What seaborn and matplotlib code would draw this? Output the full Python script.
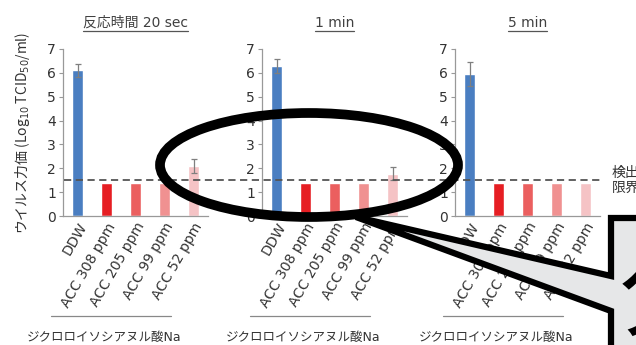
import numpy as np
import pandas as pd
import matplotlib
matplotlib.use("Agg")
import matplotlib.pyplot as plt
import seaborn as sns
from matplotlib.patches import Ellipse, Polygon
from matplotlib.lines import Line2D

# data
conditions = ["DDW", "ACC 308 ppm", "ACC 205 ppm", "ACC 99 ppm", "ACC 52 ppm"]
panel_titles = ["反応時間 20 sec", "1 min", "5 min"]
titer_20s = [6.1, 1.4, 1.4, 1.4, 2.1]
err_20s = [0.27, 0, 0, 0, 0.28]
titer_1min = [6.28, 1.4, 1.4, 1.4, 1.77]
err_1min = [0.3, 0, 0, 0, 0.27]
titer_5min = [5.95, 1.4, 1.4, 1.4, 1.4]
err_5min = [0.5, 0, 0, 0, 0]
detection_limit = 1.5
bar_colors = ["#4a7ec1", "#e61e23", "#eb5f5f", "#f09191", "#f5c3c5"]

sns.set_style("white")
plt.rcParams["font.family"] = ["DejaVu Sans", "Noto Sans CJK JP"]

W, H = 636, 345
fig = plt.figure(figsize=(W / 100, H / 100), dpi=100)


def px(x, y):
    # pixel (from top-left) -> figure fraction
    return x / W, 1 - y / H


panels = [(titer_20s, err_20s), (titer_1min, err_1min), (titer_5min, err_5min)]
lefts = [63, 262, 455]
axes = []
for i, (vals, errs) in enumerate(panels):
    x0, y0 = px(lefts[i], 216)
    ax = fig.add_axes([x0, y0, 145 / W, 167 / H])
    df = pd.DataFrame({"cond": conditions, "titer": vals})
    sns.barplot(data=df, x="cond", y="titer", hue="cond", palette=bar_colors,
                width=0.35, saturation=1, errorbar=None, legend=False, ax=ax)
    pos = np.arange(len(conditions))
    mask = np.array(errs) > 0
    ax.errorbar(pos[mask], np.array(vals)[mask], yerr=np.array(errs)[mask],
                fmt="none", ecolor="#7f7f7f", elinewidth=0.9, capsize=2, capthick=0.9)
    ax.set_xlim(-0.5, 4.5)
    ax.set_ylim(0, 7)
    ax.set_yticks(range(8))
    ax.tick_params(axis="y", length=3, color="#999999", labelsize=10,
                   labelcolor="#333333", pad=2, left=True)
    ax.tick_params(axis="x", length=0, labelsize=10, labelcolor="#333333", pad=3)
    ax.set_xticks(pos)
    ax.set_xticklabels(conditions, rotation=60, ha="right", rotation_mode="anchor")
    for s in ["top", "right"]:
        ax.spines[s].set_visible(False)
    for s in ["left", "bottom"]:
        ax.spines[s].set_color("#999999")
        ax.spines[s].set_linewidth(0.9)
    ax.set_xlabel("")
    ax.set_ylabel("")
    ax.text(0.5, 1.156, panel_titles[i], transform=ax.transAxes, ha="center",
            va="center", fontsize=10, color="#404040")
    # group line + label under ACC bars
    ax.add_line(Line2D([-12 / 145, 108 / 145], [-100 / 167, -100 / 167],
                       transform=ax.transAxes, color="#888888", lw=0.9, clip_on=False))
    ax.text(41 / 145, -121 / 167, "ジクロロイソシアヌル酸Na", transform=ax.transAxes,
            ha="center", va="center", fontsize=9, color="#333333")
    axes.append(ax)

# mathtext string: give it the CJK family alone so the kana render
axes[0].set_ylabel("ウイルス力価 (Log$_{10}$ TCID$_{50}$/ml)", fontsize=10,
                   color="#333333", labelpad=11, family="Noto Sans CJK JP")

# dashed detection-limit line across all panels
fig.canvas.draw()
inv = fig.transFigure.inverted()
x_a, y_a = inv.transform(axes[0].transData.transform((-0.45, detection_limit)))
x_b, _ = inv.transform(axes[2].transData.transform((4.55, detection_limit)))
fig.add_artist(Line2D([x_a, x_b], [y_a, y_a], transform=fig.transFigure,
                      color="#555555", lw=1.3, ls=(0, (4, 2.5))))
fig.text(*px(612, 180), "検出\n限界", fontsize=10, color="#333333",
         ha="left", va="center", linespacing=1.1)

# underline titles
renderer = fig.canvas.get_renderer()
for ax in axes:
    t = ax.texts[0]
    bb = t.get_window_extent(renderer).transformed(inv)
    fig.add_artist(Line2D([bb.x0, bb.x1], [bb.y0 - 0.004, bb.y0 - 0.004],
                          transform=fig.transFigure, color="#555555", lw=0.9))

# callout box with wedge
pts = [px(611, 218), px(660, 218), px(660, 360), px(611, 360), px(611, 311),
       px(356, 217), px(611, 276)]
fig.add_artist(Polygon(pts, closed=True, transform=fig.transFigure,
                       facecolor="#e6e7e8", edgecolor="black", lw=4.5, zorder=5))
fig.text(*px(620, 300), "分", fontsize=72, color="black", ha="left",
         va="center", zorder=6)

# ellipse highlight
cx, cy = px(309, 165)
fig.add_artist(Ellipse((cx, cy), 298 / W, 104 / H, transform=fig.transFigure,
                       fill=False, edgecolor="black", lw=7, zorder=7))

fig.savefig("out.png", dpi=100)
